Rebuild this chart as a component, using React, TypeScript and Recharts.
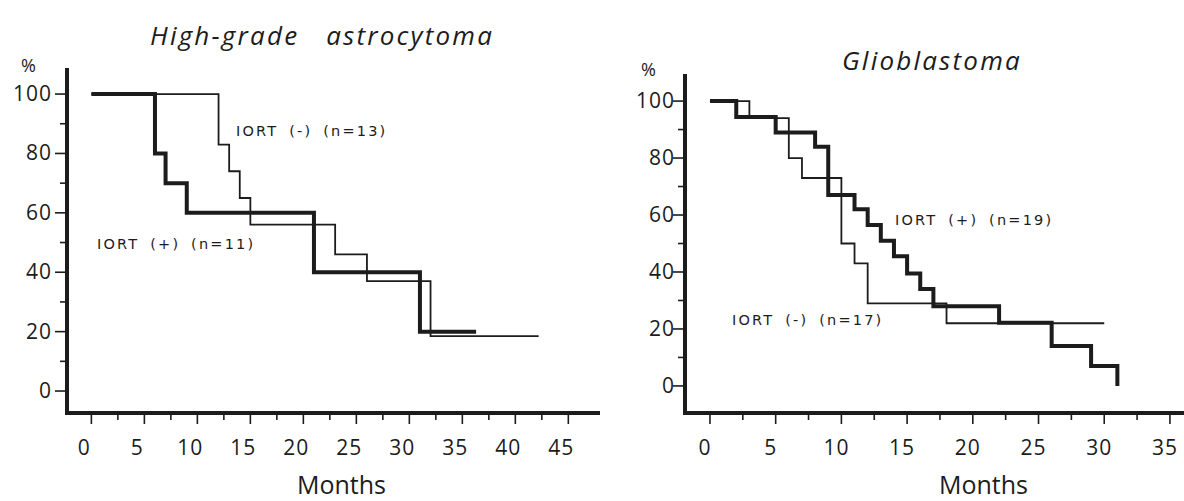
import React from 'react';
import { LineChart, Line, XAxis, YAxis } from 'recharts';

const INK = '#1c1c1c';

// ---- axis ticks ----
const survivalTicks = [0, 10, 20, 30, 40, 50, 60, 70, 80, 90, 100];
const astroMonthTicks = [0, 2.5, 5, 7.5, 10, 12.5, 15, 17.5, 20, 22.5, 25, 27.5, 30, 32.5, 35, 37.5, 40, 42.5, 45];
const glioMonthTicks = [0, 2.5, 5, 7.5, 10, 12.5, 15, 17.5, 20, 22.5, 25, 27.5, 30, 32.5, 35];

// ---- High-grade astrocytoma ----
const astroPlusMonths = [0, 6, 7, 9, 21, 31, 36.3];
const astroPlusSurvival = [100, 80, 70, 60, 40, 20, 20];
const astroMinusMonths = [0, 12, 13, 14, 15, 23, 26, 32, 42.2];
const astroMinusSurvival = [100, 83, 74, 65, 56, 46, 37, 18.5, 18.5];

// ---- Glioblastoma ----
const glioPlusMonths = [0, 2, 5, 8, 9, 11, 12, 13, 14, 15, 16, 17, 22, 26, 29, 31];
const glioPlusSurvival = [100, 94.4, 89, 84, 67, 62, 56.5, 51, 45.5, 39.5, 34, 28, 22.2, 14, 7, 0];
const glioMinusMonths = [0, 3, 6, 7, 10, 11, 12, 18, 30];
const glioMinusSurvival = [100, 94, 80, 73, 50, 43, 29, 22, 22];

const toData = (m: number[], s: number[]) => m.map((v, i) => ({ m: v, s: s[i] }));

const astroPlus = toData(astroPlusMonths, astroPlusSurvival);
const astroMinus = toData(astroMinusMonths, astroMinusSurvival);
const glioPlus = toData(glioPlusMonths, glioPlusSurvival);
const glioMinus = toData(glioMinusMonths, glioMinusSurvival);

const TICK_FONT = '"Open Sans", sans-serif';
const MONO = '"DejaVu Sans", sans-serif';

const XTick = (props: any) => {
  const { x, y, payload, shift } = props;
  const v = payload.value;
  const major = v % 5 === 0;
  return (
    <g>
      <line x1={x} y1={y + 2} x2={x} y2={y + (major ? 11 : 7)} stroke={INK} strokeWidth={1.6} />
      {major && (
        <text x={x + shift} y={y + 42} textAnchor="middle" fontFamily={TICK_FONT} fontSize={21} fill={INK} letterSpacing={1}>
          {v}
        </text>
      )}
    </g>
  );
};

const YTick = (props: any) => {
  const { x, y, payload, labelRight } = props;
  const v = payload.value;
  const major = v % 20 === 0;
  return (
    <g>
      <line x1={x - 2} y1={y} x2={x - (major ? 12 : 7)} y2={y} stroke={INK} strokeWidth={1.6} />
      {major && (
        <text x={x - labelRight} y={y + 7} textAnchor="end" fontFamily={TICK_FONT} fontSize={21} fill={INK} letterSpacing={1}>
          {v}
        </text>
      )}
    </g>
  );
};

const abs = (left: number, top: number, extra: React.CSSProperties = {}): React.CSSProperties => ({
  position: 'absolute',
  left,
  top,
  whiteSpace: 'pre',
  color: INK,
  lineHeight: 1,
  ...extra,
});

const seriesLabel: React.CSSProperties = {
  fontFamily: MONO,
  fontSize: 14.5,
  letterSpacing: 2.2,
  wordSpacing: 4,
};

const titleStyle: React.CSSProperties = {
  fontFamily: TICK_FONT,
  fontStyle: 'italic',
  fontSize: 26,
  fontWeight: 500,
  letterSpacing: 2.2,
};

const axisLineStyle = { stroke: INK, strokeWidth: 4, strokeLinecap: 'square' as const };

export default function App() {
  return (
    <div style={{ position: 'fixed', left: 0, top: 0, width: 1184, height: 501, background: '#fff', overflow: 'hidden' }}>
      {/* Left panel */}
      <div style={{ position: 'absolute', left: 0, top: 0 }}>
        <LineChart width={600} height={501} margin={{ top: 70, left: 0, right: 2, bottom: 0 }}>
          <XAxis
            type="number"
            dataKey="m"
            domain={[-2.3, 47.8]}
            allowDataOverflow
            ticks={astroMonthTicks}
            interval={0}
            height={88}
            tickSize={0}
            tickMargin={0}
            axisLine={axisLineStyle}
            tick={(p: any) => <XTick {...p} shift={-7} />}
          />
          <YAxis
            type="number"
            dataKey="s"
            domain={[-7.4, 108.1]}
            allowDataOverflow
            ticks={survivalTicks}
            interval={0}
            width={67}
            tickSize={0}
            tickMargin={0}
            axisLine={axisLineStyle}
            tick={(p: any) => <YTick {...p} labelRight={15} />}
          />
          <Line data={astroMinus} dataKey="s" type="stepAfter" stroke={INK} strokeWidth={1.8} dot={false} isAnimationActive={false} />
          <Line data={astroPlus} dataKey="s" type="stepAfter" stroke={INK} strokeWidth={4} dot={false} isAnimationActive={false} />
        </LineChart>
      </div>

      {/* Right panel */}
      <div style={{ position: 'absolute', left: 600, top: 0 }}>
        <LineChart width={584} height={501} margin={{ top: 76, left: 0, right: 0, bottom: 0 }}>
          <XAxis
            type="number"
            dataKey="m"
            domain={[-1.9, 36.07]}
            allowDataOverflow
            ticks={glioMonthTicks}
            interval={0}
            height={88}
            tickSize={0}
            tickMargin={0}
            axisLine={axisLineStyle}
            tick={(p: any) => <XTick {...p} shift={-5} />}
          />
          <YAxis
            type="number"
            dataKey="s"
            domain={[-9.5, 108.8]}
            allowDataOverflow
            ticks={survivalTicks}
            interval={0}
            width={85}
            tickSize={0}
            tickMargin={0}
            axisLine={axisLineStyle}
            tick={(p: any) => <YTick {...p} labelRight={10} />}
          />
          <Line data={glioMinus} dataKey="s" type="stepAfter" stroke={INK} strokeWidth={1.8} dot={false} isAnimationActive={false} />
          <Line data={glioPlus} dataKey="s" type="stepAfter" stroke={INK} strokeWidth={4} dot={false} isAnimationActive={false} />
        </LineChart>
      </div>

      {/* Titles */}
      <div style={abs(150, 22, titleStyle)}>{'High-grade   astrocytoma'}</div>
      <div style={abs(842, 47, titleStyle)}>Glioblastoma</div>

      {/* % signs */}
      <div style={abs(21, 56, { fontFamily: TICK_FONT, fontSize: 18 })}>%</div>
      <div style={abs(641, 60, { fontFamily: TICK_FONT, fontSize: 18 })}>%</div>

      {/* Months */}
      <div style={abs(297, 472, { fontFamily: TICK_FONT, fontSize: 25 })}>Months</div>
      <div style={abs(939, 472, { fontFamily: TICK_FONT, fontSize: 25 })}>Months</div>

      {/* Series labels */}
      <div style={abs(236, 124, seriesLabel)}>IORT (-) (n=13)</div>
      <div style={abs(97, 237, seriesLabel)}>IORT (+) (n=11)</div>
      <div style={abs(895, 213, seriesLabel)}>IORT (+) (n=19)</div>
      <div style={abs(732, 313, seriesLabel)}>IORT (-) (n=17)</div>
    </div>
  );
}
